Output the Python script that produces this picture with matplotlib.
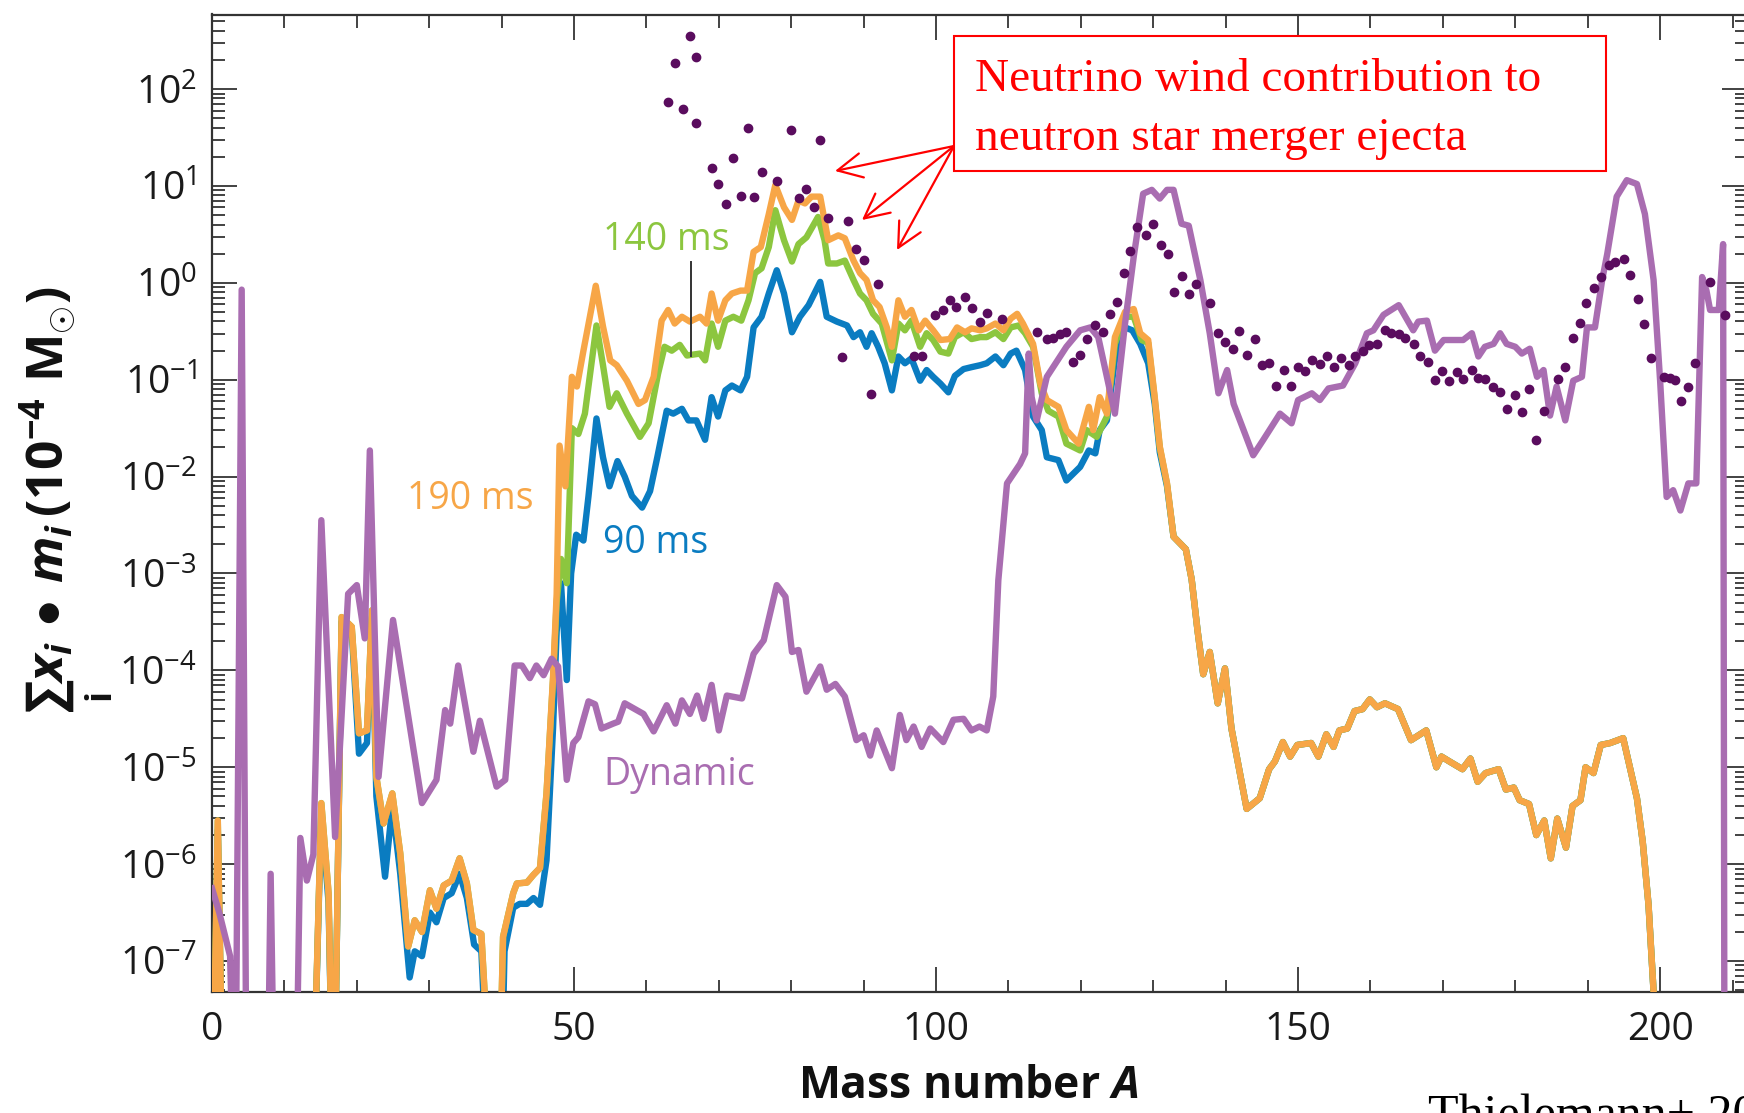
import numpy as np
import matplotlib
matplotlib.use("Agg")
import matplotlib.pyplot as plt
from matplotlib.patches import Rectangle
from matplotlib.ticker import LogLocator, MultipleLocator, NullFormatter

plt.rcParams['font.family'] = ['Open Sans', 'DejaVu Sans']
plt.rcParams['mathtext.fontset'] = 'custom'
plt.rcParams['mathtext.rm'] = 'Open Sans'
plt.rcParams['mathtext.it'] = 'Open Sans:italic:bold'   # only the axis titles use italics
plt.rcParams['mathtext.bf'] = 'Open Sans:bold'

# --- data: mass number A and log10 of abundance (10^-4 Msun) ---
# low-A part shared by 140 ms and 190 ms runs
early_A = [0, 0.8, 1.6, 13.8, 15.1, 16.1, 16.8, 17.9, 19.3, 20.3, 21.4, 22.1, 22.7, 23.7, 24.9,
           26.0, 27.1, 28.0, 29.0, 30.1, 31.0, 32.0, 33.1, 34.2, 35.2, 36.1, 37.2, 38.9, 39.5,
           40.2, 41.6, 42.1, 43.5, 44.4, 45.3, 46.2]
early_y = [-9, -5.55, -9, -9, -5.37, -6.30, -9, -3.45, -3.55, -4.65, -4.62, -3.38, -5.10, -5.58, -5.27,
           -5.89, -6.85, -6.58, -6.70, -6.27, -6.46, -6.22, -6.17, -5.94, -6.20, -6.68, -6.72, -9, -9,
           -6.75, -6.30, -6.20, -6.19, -6.11, -6.04, -5.27]

orange_A = [47.1, 47.6, 48.0, 48.8, 49.7, 50.4, 51.3, 53.0, 54.0, 55.0, 55.9, 57.3, 58.9, 59.8, 61.0,
            62.1, 63.0, 63.9, 64.9, 66.0, 67.4, 68.3, 69.0, 69.9, 70.9, 71.8, 73.0, 73.9, 74.8, 75.8,
            76.9, 77.8, 79.0, 80.1, 81.0, 81.9, 82.8, 84.0, 85.1, 86.5, 87.4, 88.6, 89.5, 90.4, 91.3,
            92.2, 93.2, 93.9, 94.8, 95.7, 96.6, 97.6, 98.5, 99.6, 100.6, 101.9, 102.9, 104.0, 104.9,
            106.1, 107.0, 108.2, 109.3, 110.3, 111.2, 112.0, 113.4, 114.4, 115.3, 116.9, 118.0, 119.7,
            121.1, 121.7, 122.6, 123.6, 124.7, 126.1, 127.3, 128.2, 129.3, 130.2, 130.9, 131.9]
orange_y = [-4.07, -3.21, -1.68, -2.10, -0.97, -1.07, -0.70, -0.03, -0.45, -0.80, -0.85, -1.01, -1.25, -1.21, -0.97,
            -0.39, -0.28, -0.42, -0.35, -0.40, -0.35, -0.42, -0.11, -0.39, -0.18, -0.11, -0.08, -0.08, 0.32, 0.37,
            0.71, 1.01, 0.78, 0.65, 0.85, 0.82, 0.89, 0.89, 0.44, 0.49, 0.46, 0.23, 0.10, 0.03, -0.18,
            -0.25, -0.46, -0.66, -0.18, -0.35, -0.28, -0.49, -0.39, -0.49, -0.59, -0.58, -0.46, -0.51, -0.47,
            -0.49, -0.47, -0.42, -0.49, -0.37, -0.32, -0.42, -0.63, -1.04, -1.21, -1.28, -1.52, -1.66,
            -1.28, -1.52, -1.18, -1.35, -0.56, -0.30, -0.27, -0.52, -0.59, -1.18, -1.69, -2.07]

green_A = [47.1, 47.6, 48.2, 49.0, 49.7, 50.6, 51.5, 53.1, 54.0, 54.9, 55.9, 57.3, 59.1, 60.3, 61.6,
           62.5, 63.5, 64.6, 65.6, 67.4, 68.1, 69.0, 69.9, 70.9, 72.0, 73.1, 74.1, 75.0, 75.9, 76.9,
           77.8, 79.0, 80.1, 81.0, 82.1, 83.7, 84.6, 85.1, 86.3, 87.4, 88.6, 89.5, 90.4, 91.3, 92.5,
           93.9, 94.8, 95.7, 96.6, 97.8, 98.7, 99.6, 100.6, 101.7, 102.6, 103.8, 104.9, 106.1, 107.0,
           108.2, 109.3, 110.3, 111.4, 112.3, 113.4, 114.6, 115.5, 116.9, 118.0, 119.9, 120.8, 122.2,
           123.6, 124.7, 126.1, 127.3, 128.4, 129.3, 130.2, 130.9, 131.9]
green_y = [-4.10, -3.30, -2.85, -3.10, -1.50, -1.56, -1.35, -0.44, -0.85, -1.28, -1.14, -1.35, -1.59, -1.45, -0.94,
           -0.66, -0.70, -0.64, -0.75, -0.73, -0.80, -0.42, -0.66, -0.39, -0.35, -0.39, -0.18, 0.10, 0.15, 0.37,
           0.75, 0.44, 0.22, 0.40, 0.47, 0.68, 0.44, 0.20, 0.20, 0.23, 0.03, -0.11, -0.18, -0.32, -0.42,
           -0.80, -0.42, -0.49, -0.39, -0.66, -0.52, -0.59, -0.71, -0.73, -0.56, -0.51, -0.58, -0.56, -0.56,
           -0.51, -0.58, -0.46, -0.44, -0.52, -0.66, -1.14, -1.32, -1.38, -1.66, -1.73, -1.52, -1.59,
           -1.38, -0.63, -0.35, -0.35, -0.59, -0.62, -1.20, -1.70, -2.08]

blue_A = [0, 0.8, 1.6, 13.8, 15.1, 16.1, 16.8, 17.9, 19.3, 20.3, 21.4, 22.1, 22.7, 23.9, 24.9, 26.0,
          27.3, 28.0, 29.0, 30.1, 31.0, 32.0, 33.1, 34.2, 35.2, 36.2, 37.2, 38.5, 39.8, 40.4, 41.6,
          42.5, 43.5, 44.4, 45.3, 46.2, 47.1, 47.6, 48.2, 49.0, 49.6, 50.3, 51.3, 52.0, 53.1, 54.0,
          54.9, 56.0, 57.0, 58.0, 59.4, 60.5, 61.5, 62.8, 63.7, 64.9, 65.8, 66.9, 68.1, 69.0, 69.9,
          70.9, 71.8, 73.0, 73.9, 74.8, 75.9, 76.9, 78.0, 79.0, 80.1, 81.2, 82.4, 84.0, 84.9, 86.3,
          87.7, 88.6, 89.5, 90.4, 91.1, 92.0, 92.9, 93.9, 94.8, 95.7, 96.6, 97.8, 98.7, 99.6, 100.6,
          101.7, 102.6, 103.8, 104.9, 106.1, 107.0, 108.2, 109.3, 110.3, 111.1, 112.3, 113.4, 114.6,
          115.3, 116.9, 118.0, 119.9, 121.1, 122.0, 122.6, 123.6, 124.7, 126.1, 127.1, 128.2, 129.3,
          130.2, 130.9, 131.9]
blue_y = [-9, -5.65, -9, -9, -5.45, -6.40, -9, -3.50, -3.60, -4.86, -4.75, -3.45, -5.30, -6.13, -5.40, -6.10,
          -7.17, -6.90, -6.95, -6.50, -6.60, -6.35, -6.30, -6.10, -6.35, -6.83, -6.90, -9, -9, -6.90, -6.45,
          -6.41, -6.41, -6.35, -6.42, -5.96, -4.60, -3.60, -3.10, -4.10, -3.00, -2.60, -2.66, -2.20, -1.40, -1.80,
          -2.10, -1.84, -2.00, -2.20, -2.32, -2.15, -1.80, -1.32, -1.35, -1.30, -1.42, -1.42, -1.62, -1.18, -1.38,
          -1.11, -1.06, -1.11, -0.97, -0.46, -0.35, -0.11, 0.13, -0.11, -0.51, -0.35, -0.23, 0.01, -0.35, -0.40,
          -0.44, -0.56, -0.51, -0.66, -0.52, -0.66, -0.83, -1.11, -0.76, -0.83, -0.78, -1.01, -0.90, -0.97, -1.04,
          -1.13, -0.96, -0.89, -0.87, -0.85, -0.83, -0.76, -0.85, -0.73, -0.70, -0.90, -1.38, -1.52,
          -1.80, -1.83, -2.04, -1.90, -1.73, -1.76, -1.52, -1.42, -0.80, -0.46, -0.49, -0.63, -0.83,
          -1.25, -1.75, -2.10]

# heavy-A part, same for all three wind times
tail_A = [132.8, 134.5, 135.3, 136.1, 136.9, 137.8, 138.9, 139.9, 140.8, 142.9, 144.7, 146.0, 146.8, 147.9,
          148.9, 149.9, 151.8, 152.8, 153.9, 154.9, 155.7, 156.8, 157.8, 158.9, 159.9, 160.9, 162.0, 163.8,
          165.6, 167.7, 169.1, 169.8, 170.9, 172.7, 173.8, 174.8, 175.9, 177.7, 178.7, 179.8, 180.6, 181.9,
          182.9, 184.0, 184.9, 185.8, 187.0, 187.9, 189.0, 189.7, 190.8, 191.8, 193.1, 194.9, 196.8, 197.6,
          198.4, 199.1, 199.8]
tail_y = [-2.62, -2.75, -3.06, -3.58, -4.04, -3.81, -4.34, -3.98, -4.60, -5.43, -5.32, -5.02, -4.94, -4.74,
          -4.89, -4.77, -4.75, -4.89, -4.66, -4.79, -4.62, -4.60, -4.42, -4.40, -4.30, -4.38, -4.34, -4.40,
          -4.72, -4.62, -5.00, -4.89, -4.94, -5.02, -4.91, -5.15, -5.06, -5.02, -5.23, -5.21, -5.34, -5.38,
          -5.70, -5.55, -5.94, -5.53, -5.83, -5.40, -5.34, -5.00, -5.06, -4.77, -4.75, -4.70, -5.32, -5.77,
          -6.42, -7.32, -9]

dyn_A = [0, 1.0, 2.5, 3.2, 4.1, 4.8, 7.6, 8.1, 8.7, 11.5, 12.2, 13.1, 14.0, 15.1, 17.0, 18.8, 20.0, 21.1,
         21.8, 23.0, 25.0, 29.0, 31.0, 32.2, 32.9, 34.0, 36.1, 37.0, 39.3, 40.5, 41.8, 42.8, 43.9, 44.8,
         45.8, 46.9, 47.8, 49.0, 49.9, 50.6, 52.0, 52.9, 53.8, 55.4, 56.1, 57.0, 59.6, 61.0, 62.8, 64.0,
         64.9, 66.0, 67.0, 67.9, 69.0, 70.0, 71.1, 73.2, 74.8, 76.2, 78.0, 79.2, 80.1, 81.0, 82.1, 84.0,
         84.9, 86.1, 87.4, 89.0, 90.0, 90.9, 91.8, 93.9, 95.0, 95.9, 96.9, 98.0, 99.2, 101.0, 102.4, 103.8,
         104.9, 106.0, 107.0, 107.9, 108.6, 109.8, 111.6, 112.3, 112.8, 113.2, 113.9, 115.3, 118.0, 119.9,
         121.3, 122.4, 124.7, 126.1, 127.3, 128.6, 129.8, 130.9, 131.9, 132.8, 133.9, 134.9, 136.5, 137.8,
         139.0, 140.2, 141.1, 143.8, 145.2, 147.5, 149.1, 150.0, 151.9, 153.0, 154.2, 156.2, 157.9, 159.5,
         160.4, 161.8, 163.9, 165.9, 166.6, 167.8, 168.9, 170.1, 172.8, 174.0, 174.9, 175.8, 177.0, 177.9,
         178.8, 180.0, 180.9, 182.0, 183.0, 183.9, 184.8, 185.7, 186.9, 188.0, 189.2, 189.9, 191.0, 192.0,
         192.7, 194.0, 195.4, 196.8, 197.9, 199.1, 200.0, 200.9, 201.8, 202.8, 203.9, 205.0, 205.8, 206.4,
         206.9, 208.1, 208.7, 208.9]
dyn_y = [-6.25, -6.50, -6.95, -9, -0.07, -9, -9, -6.10, -9, -9, -5.73, -6.17, -5.90, -2.45, -5.72, -3.21, -3.12, -3.67,
         -1.73, -5.10, -3.48, -5.37, -5.13, -4.41, -4.55, -3.95, -4.84, -4.52, -5.20, -5.13, -3.95, -3.95, -4.08, -3.95,
         -4.05, -3.88, -3.96, -5.13, -4.75, -4.69, -4.32, -4.35, -4.60, -4.55, -4.53, -4.34, -4.45, -4.63, -4.36, -4.55,
         -4.31, -4.45, -4.26, -4.50, -4.15, -4.62, -4.26, -4.29, -3.83, -3.69, -3.12, -3.24, -3.81, -3.79, -4.22, -3.96,
         -4.20, -4.14, -4.27, -4.72, -4.67, -4.88, -4.62, -5.01, -4.46, -4.72, -4.58, -4.79, -4.60, -4.74, -4.51, -4.50,
         -4.62, -4.58, -4.62, -4.27, -3.07, -2.07, -1.87, -1.76, -0.73, -1.18, -1.42, -0.97, -0.66, -0.49,
         -0.46, -0.56, -1.35, -0.42, 0.27, 0.92, 0.96, 0.87, 0.96, 0.96, 0.61, 0.59, 0.03, -0.52,
         -1.14, -0.90, -1.25, -1.78, -1.62, -1.35, -1.45, -1.21, -1.14, -1.21, -1.09, -1.06, -0.83, -0.52,
         -0.49, -0.33, -0.23, -0.49, -0.40, -0.39, -0.70, -0.59, -0.59, -0.52, -0.76, -0.66, -0.63, -0.52,
         -0.63, -0.66, -0.73, -0.68, -0.97, -0.90, -1.37, -1.07, -1.42, -1.01, -0.97, -0.46, -0.46, 0.03,
         0.30, 0.89, 1.06, 1.02, 0.71, 0.03, -1.01, -2.21, -2.14, -2.35, -2.07, -2.07, 0.06, -0.08,
         -0.28, -0.28, 0.40, -9]

# solar-like pattern (dots)
dot_A = [63.0, 64.0, 65.0, 66.0, 66.9, 66.9, 69.0, 69.9, 71.0, 72.0, 73.0, 74.0, 74.9, 76.0, 78.0, 80.0,
         81.1, 82.0, 83.1, 84.0, 85.1, 87.0, 87.9, 89.0, 90.0, 91.0, 92.0, 96.9, 98.0, 99.9, 101.0,
         101.9, 102.8, 104.0, 104.9, 106.1, 107.0, 109.1, 113.9, 115.3, 116.2, 117.1, 118.0, 118.9,
         119.9, 120.9, 121.9, 123.0, 124.0, 125.0, 126.0, 126.8, 127.7, 129.0, 130.0, 131.0, 132.1,
         132.8, 133.9, 135.0, 135.9, 137.9, 139.0, 139.9, 141.0, 141.9, 142.9, 144.0, 145.0, 146.0,
         147.0, 148.0, 149.0, 150.0, 151.0, 151.9, 153.0, 154.0, 154.9, 155.9, 157.0, 157.9, 158.9,
         159.8, 160.9, 162.0, 162.9, 163.9, 164.8, 166.0, 166.8, 167.9, 168.9, 169.9, 170.9, 171.9,
         172.8, 174.0, 174.9, 175.8, 176.9, 177.9, 178.9, 179.9, 180.9, 181.9, 182.9, 183.9, 185.9,
         186.9, 187.9, 188.9, 189.8, 190.8, 191.8, 192.9, 193.8, 195.0, 195.9, 196.9, 197.8, 198.8,
         200.5, 201.4, 202.1, 202.9, 203.9, 204.8, 206.9, 209.0]
dot_y = [1.87, 2.27, 1.79, 2.55, 2.33, 1.65, 1.19, 1.02, 0.81, 1.29, 0.90, 1.60, 0.89, 1.14, 1.05, 1.58,
         0.88, 0.97, 0.78, 1.47, 0.67, -0.77, 0.64, 0.35, 0.24, -1.15, -0.01, -0.76, -0.75, -0.33, -0.28,
         -0.18, -0.25, -0.15, -0.26, -0.40, -0.31, -0.37, -0.51, -0.58, -0.57, -0.53, -0.51, -0.82,
         -0.74, -0.58, -0.44, -0.51, -0.32, -0.20, 0.10, 0.33, 0.58, 0.49, 0.61, 0.39, 0.30,
         -0.09, 0.07, -0.11, -0.01, -0.21, -0.52, -0.61, -0.68, -0.50, -0.74, -0.58, -0.85, -0.83,
         -1.06, -0.90, -1.06, -0.87, -0.91, -0.80, -0.84, -0.76, -0.87, -0.78, -0.85, -0.76, -0.70,
         -0.64, -0.63, -0.49, -0.52, -0.53, -0.57, -0.63, -0.76, -0.82, -1.00, -0.91, -1.01, -0.92,
         -0.99, -0.90, -0.98, -0.99, -1.08, -1.13, -1.30, -1.16, -1.33, -1.10, -1.62, -1.32, -0.99,
         -0.87, -0.57, -0.41, -0.21, -0.05, 0.06, 0.18, 0.22, 0.25, 0.08, -0.17, -0.42, -0.78,
         -0.97, -0.98, -1.00, -1.22, -1.07, -0.83, 0.01, -0.33]

c_blue = '#0a7cc1'
c_green = '#8cc63f'
c_orange = '#f7a647'
c_dyn = '#a96db1'
c_dot = '#5a0c5e'

fig = plt.figure(figsize=(17.44, 11.13), dpi=100)
ax = fig.add_axes([212 / 1744, 1 - 992 / 1113, 1535 / 1744, (992 - 14.5) / 1113])
ax.set_yscale('log')

lw = 4.6
ax.plot(blue_A + tail_A, 10.0 ** np.array(blue_y + tail_y), color=c_blue, lw=lw, zorder=2)
ax.plot(early_A + green_A + tail_A, 10.0 ** np.array(early_y + green_y + tail_y), color=c_green, lw=lw, zorder=3)
ax.plot(early_A + orange_A + tail_A, 10.0 ** np.array(early_y + orange_y + tail_y), color=c_orange, lw=lw, zorder=4)
ax.plot(dyn_A, 10.0 ** np.array(dyn_y), color=c_dyn, lw=lw, zorder=5)
ax.plot(dot_A, 10.0 ** np.array(dot_y), 'o', ms=6, color=c_dot, zorder=6)

# small marker line under the 140 ms label
ax.plot([66.1, 66.1], [10 ** 0.22, 10 ** -0.75], color='#333333', lw=1.4, zorder=7)

ax.set_xlim(0, 212)
ax.set_ylim(10 ** -7.32, 10 ** 2.77)

ax.xaxis.set_major_locator(MultipleLocator(50))
ax.xaxis.set_minor_locator(MultipleLocator(10))
ax.yaxis.set_major_locator(LogLocator(base=10, numticks=20))
ax.yaxis.set_minor_locator(LogLocator(base=10, subs=np.arange(2, 10), numticks=20))
ax.yaxis.set_minor_formatter(NullFormatter())
ax.tick_params(which='both', direction='in', top=True, right=True, width=1.2, color='#222222')
ax.tick_params(which='major', length=18, labelsize=28, labelcolor='#1a1a1a')
ax.tick_params(which='minor', length=9)
ax.tick_params(axis='x', which='major', pad=14)
ax.tick_params(axis='y', which='major', pad=11)
for sp in ax.spines.values():
    sp.set_linewidth(1.6)
    sp.set_color('#333333')

# curve labels
ax.text(26.9, 10 ** -2.33, '190 ms', color=c_orange, fontsize=27, ha='left', va='baseline')
ax.text(54.0, 10 ** 0.336, '140 ms', color=c_green, fontsize=27, ha='left', va='baseline')
ax.text(54.0, 10 ** -2.79, '90 ms', color=c_blue, fontsize=27, ha='left', va='baseline')
ax.text(54.0, 10 ** -5.18, 'Dynamic', color=c_dyn, fontsize=27, ha='left', va='baseline')

# axis titles
fig.text(968 / 1744, 1 - 1086 / 1113, r'Mass number $A$', fontsize=32, fontweight='bold',
         ha='center', va='center', color='#111111')
fig.text(66 / 1744, 1 - 500 / 1113,
         r'$\mathbf{\sum_{i}}x_i\mathbf{\,\bullet\,}m_i\mathbf{\,(10^{-4}\ M_{\odot})}$',
         fontsize=37, rotation=90, ha='center', va='center', color='#111111')

# red annotation box
fig.add_artist(Rectangle((954 / 1744, 1 - 171 / 1113), (1606 - 954) / 1744, (171 - 36) / 1113,
                         transform=fig.transFigure, facecolor='white', edgecolor='red', lw=1.5, zorder=10))
fig.text(975 / 1744, 1 - 91 / 1113, 'Neutrino wind contribution to', family='Liberation Serif',
         color='red', fontsize=34, va='baseline', zorder=11)
fig.text(975 / 1744, 1 - 150 / 1113, 'neutron star merger ejecta', family='Liberation Serif',
         color='red', fontsize=34, va='baseline', zorder=11)
for tx, ty in [(835, 171), (862, 220), (897, 250)]:
    ax.annotate('', xy=(tx / 1744, 1 - ty / 1113), xycoords='figure fraction',
                xytext=(954 / 1744, 1 - 146 / 1113), textcoords='figure fraction',
                arrowprops=dict(arrowstyle='->,head_length=0.8,head_width=0.4', color='red', lw=1.6,
                                shrinkA=0, shrinkB=0, mutation_scale=22), zorder=12)

fig.text(1428 / 1744, 1 - 1094 / 1113, 'Thielemann+ 2017', family='Liberation Serif',
         fontsize=36, va='top', color='black')

fig.savefig('out.png', dpi=100)
